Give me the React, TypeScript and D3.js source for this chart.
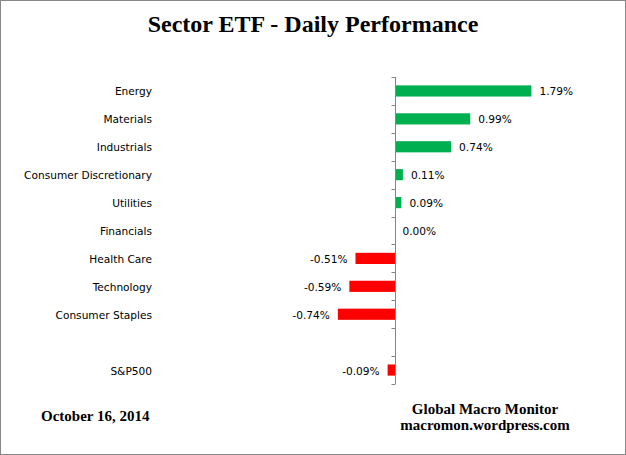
import { scaleBand, scaleLinear } from "d3";

const categories = [
  "Energy",
  "Materials",
  "Industrials",
  "Consumer Discretionary",
  "Utilities",
  "Financials",
  "Health Care",
  "Technology",
  "Consumer Staples",
  "",
  "S&P500",
];

const values: (number | null)[] = [
  1.79, 0.99, 0.74, 0.11, 0.09, 0.0, -0.51, -0.59, -0.74, null, -0.09,
];

const title = "Sector ETF - Daily Performance";
const dateLabel = "October 16, 2014";
const sourceLines = ["Global Macro Monitor", "macromon.wordpress.com"];

const width = 626;
const height = 455;

const GREEN = "#00B050";
const RED = "#FF0000";
const AXIS = "#868686";
const labelFont = "'DejaVu Sans', sans-serif";
const serif = "'Liberation Serif', 'Times New Roman', serif";

const App = () => {
  const x = scaleLinear().domain([-1, 2]).range([318, 547.5]);
  const y = scaleBand()
    .domain(categories)
    .range([77, 384])
    .paddingInner(0.6)
    .paddingOuter(0.3);

  const step = y.step();
  const zero = Math.round(x(0)) + 0.5;
  const ticks = categories.map((_, i) => 77 + i * step).concat([384]);

  return (
    <svg
      width={width}
      height={height}
      style={{ position: "absolute", left: 0, top: 0, background: "#fff" }}
    >
      <rect
        x={0.5}
        y={0.5}
        width={width - 1}
        height={height - 1}
        fill="#fff"
        stroke="#888"
      />
      <text
        x={313}
        y={32}
        textAnchor="middle"
        fontFamily={serif}
        fontWeight="bold"
        fontSize={24}
      >
        {title}
      </text>

      {/* bars */}
      {categories.map((c, i) => {
        const v = values[i];
        if (v === null || !c) return null;
        const yy = y(c) ?? 0;
        const bw = y.bandwidth();
        const x0 = v >= 0 ? zero : x(v);
        const w = Math.abs(x(v) - zero);
        return (
          <g key={`bar-${i}`}>
            {v !== 0 && (
              <rect
                x={x0}
                y={yy}
                width={w}
                height={bw}
                fill={v > 0 ? GREEN : RED}
              />
            )}
            <text
              x={v >= 0 ? x(v) + 8 : x(v) - 8}
              y={yy + bw / 2 + 4.5}
              textAnchor={v >= 0 ? "start" : "end"}
              fontFamily={labelFont}
              fontSize={10.6}
            >
              {`${v.toFixed(2)}%`}
            </text>
          </g>
        );
      })}

      {/* category labels */}
      {categories.map((c, i) =>
        c ? (
          <text
            key={`lab-${i}`}
            x={152}
            y={(y(c) ?? 0) + y.bandwidth() / 2 + 4.5}
            textAnchor="end"
            fontFamily={labelFont}
            fontSize={10.6}
          >
            {c}
          </text>
        ) : null
      )}

      {/* axis */}
      <line x1={zero} x2={zero} y1={77} y2={384} stroke={AXIS} />
      {ticks.map((t, i) => (
        <line
          key={`tick-${i}`}
          x1={zero - 4}
          x2={zero}
          y1={Math.round(t) + 0.5}
          y2={Math.round(t) + 0.5}
          stroke={AXIS}
        />
      ))}

      <text
        x={41}
        y={421}
        fontFamily={serif}
        fontWeight="bold"
        fontSize={15}
      >
        {dateLabel}
      </text>
      {sourceLines.map((s, i) => (
        <text
          key={s}
          x={485}
          y={414 + i * 16}
          textAnchor="middle"
          fontFamily={serif}
          fontWeight="bold"
          fontSize={15}
        >
          {s}
        </text>
      ))}
    </svg>
  );
};

export default App;
